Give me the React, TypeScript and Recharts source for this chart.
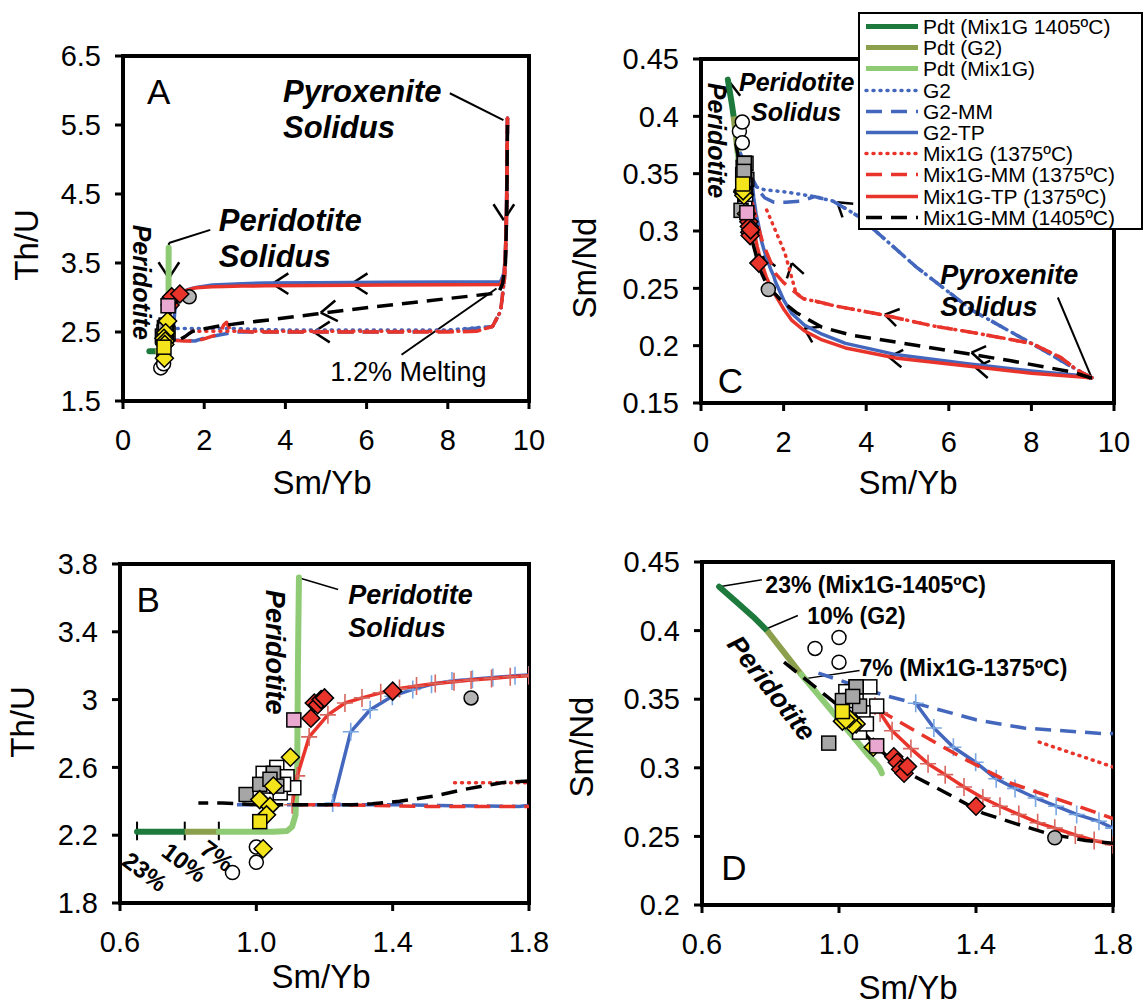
import React from 'react'
import {
  ScatterChart,
  Scatter,
  XAxis,
  YAxis,
  ReferenceLine,
  ReferenceArea,
  ReferenceDot,
  Legend,
} from 'recharts'

const FONT = '"Liberation Sans", Arial, Helvetica, sans-serif'

const RED = '#e8342a'
const BLUE = '#4467be'
const DK_GREEN = '#1d7a3c'
const OLIVE = '#8c9f4c'
const LT_GREEN = '#8ecb74'
const RED_CROSS = '#d8675f'
const BLUE_CROSS = '#7aa7e2'

// ---- model curves (Sm/Yb, Th/U, Sm/Nd) ----
const pdt1405SmYb = [0.65, 0.7, 0.75, 0.79]
const pdt1405ThU = [2.22, 2.22, 2.22, 2.22]
const pdt1405SmNd = [0.432, 0.421, 0.41, 0.4]

const pdtG2SmYb = [0.79, 0.84, 0.89]
const pdtG2ThU = [2.22, 2.22, 2.22]
const pdtG2SmNd = [0.4, 0.384, 0.368]

const pdtMixSmYb = [0.89, 0.95, 1.0, 1.05, 1.09, 1.105, 1.115, 1.12, 1.122, 1.125]
const pdtMixThU = [2.22, 2.22, 2.22, 2.22, 2.225, 2.25, 2.32, 2.6, 3.2, 3.72]
const pdtMixSmNd = [0.368, 0.35, 0.335, 0.32, 0.308, 0.304, 0.301, 0.299, 0.298, 0.296]

const g2SmYb = [9.47, 9.45, 9.4, 9.3, 9.1, 8.0, 6.56, 5.2, 3.85, 3.2, 2.75, 2.4, 2.05, 1.53, 1.3]
const g2ThU = [5.6, 4.2, 3.3, 2.8, 2.58, 2.53, 2.53, 2.53, 2.53, 2.54, 2.55, 2.55, 2.55, 2.55, 2.55]
const g2SmNd = [0.172, 0.172, 0.173, 0.175, 0.179, 0.202, 0.231, 0.269, 0.312, 0.326, 0.33, 0.332, 0.334, 0.336, 0.339]

const g2mmSmYb = [9.47, 9.45, 9.4, 9.3, 9.1, 8.0, 6.56, 5.2, 3.85, 3.2, 2.75, 2.4, 2.05, 1.77, 1.54, 1.4, 1.224, 1.13, 0.94]
const g2mmThU = [5.6, 4.2, 3.3, 2.8, 2.58, 2.51, 2.5, 2.5, 2.5, 2.5, 2.5, 2.46, 2.42, 2.37, 2.375, 2.38, 2.38, 2.38, 2.38]
const g2mmSmNd = [0.172, 0.172, 0.173, 0.175, 0.179, 0.202, 0.231, 0.269, 0.312, 0.326, 0.33, 0.326, 0.325, 0.325, 0.329, 0.335, 0.347, 0.353, 0.369]

const g2tpSmYb = [9.47, 9.45, 9.42, 9.38, 9.3, 8.0, 6.5, 4.75, 3.5, 2.93, 2.5, 2.2, 2.0, 1.8, 1.759, 1.694, 1.634, 1.574, 1.514, 1.459, 1.399, 1.334, 1.277, 1.224]
const g2tpThU = [5.6, 4.5, 3.6, 3.35, 3.23, 3.225, 3.22, 3.215, 3.21, 3.2, 3.19, 3.18, 3.165, 3.145, 3.14, 3.13, 3.12, 3.11, 3.09, 3.06, 3.02, 2.94, 2.81, 2.39]
const g2tpSmNd = [0.172, 0.172, 0.172, 0.173, 0.1735, 0.178, 0.184, 0.192, 0.202, 0.21, 0.218, 0.228, 0.24, 0.256, 0.261, 0.266, 0.272, 0.278, 0.285, 0.292, 0.304, 0.315, 0.329, 0.347]

const mixSmYb = [9.47, 9.45, 9.4, 9.3, 9.1, 8.7, 8.0, 6.5, 5.65, 4.38, 3.2, 2.6, 2.48, 2.3, 2.03, 1.76, 1.57]
const mixThU = [5.6, 4.2, 3.3, 2.8, 2.58, 2.51, 2.51, 2.51, 2.51, 2.51, 2.51, 2.51, 2.51, 2.51, 2.51, 2.51, 2.51]
const mixSmNd = [0.172, 0.172, 0.173, 0.175, 0.179, 0.19, 0.202, 0.212, 0.217, 0.227, 0.235, 0.24, 0.241, 0.246, 0.281, 0.304, 0.32]

const mixmmSmYb = [9.47, 9.45, 9.4, 9.3, 9.1, 8.7, 8.0, 6.5, 5.65, 4.38, 3.2, 2.65, 2.55, 2.48, 2.4, 2.3, 2.0, 1.8, 1.64, 1.5, 1.355, 1.235, 1.11]
const mixmmThU = [5.6, 4.2, 3.3, 2.8, 2.58, 2.51, 2.5, 2.5, 2.5, 2.5, 2.5, 2.52, 2.64, 2.6, 2.5, 2.46, 2.4, 2.37, 2.37, 2.37, 2.375, 2.38, 2.38]
const mixmmSmNd = [0.172, 0.172, 0.173, 0.175, 0.179, 0.19, 0.202, 0.212, 0.217, 0.227, 0.235, 0.24, 0.24, 0.241, 0.243, 0.246, 0.255, 0.263, 0.277, 0.289, 0.308, 0.325, 0.343]

const mixtpSmYb = [9.47, 9.45, 9.42, 9.38, 9.3, 8.0, 6.5, 4.75, 3.5, 2.93, 2.5, 2.2, 2.0, 1.8, 1.745, 1.69, 1.63, 1.58, 1.525, 1.47, 1.42, 1.365, 1.31, 1.26, 1.21, 1.155, 1.12, 1.105]
const mixtpThU = [5.6, 4.5, 3.6, 3.3, 3.19, 3.185, 3.18, 3.175, 3.17, 3.165, 3.16, 3.155, 3.15, 3.14, 3.135, 3.125, 3.115, 3.105, 3.095, 3.08, 3.065, 3.04, 3.01, 2.98, 2.91, 2.78, 2.55, 2.38]
const mixtpSmNd = [0.172, 0.172, 0.172, 0.172, 0.1725, 0.176, 0.182, 0.189, 0.198, 0.205, 0.213, 0.222, 0.232, 0.244, 0.247, 0.251, 0.256, 0.26, 0.266, 0.272, 0.278, 0.286, 0.295, 0.303, 0.314, 0.327, 0.34, 0.345]

const mm1405SmYb = [9.47, 9.45, 9.42, 9.35, 9.25, 9.0, 7.47, 6.1, 4.75, 3.66, 2.93, 2.3, 1.95, 1.8, 1.72, 1.61, 1.52, 1.42, 1.34, 1.28, 1.18, 1.1, 1.0, 0.95, 0.9, 0.83]
const mm1405ThU = [5.5, 4.2, 3.5, 3.2, 3.07, 3.05, 2.95, 2.86, 2.76, 2.68, 2.63, 2.58, 2.54, 2.52, 2.51, 2.47, 2.43, 2.4, 2.385, 2.38, 2.38, 2.38, 2.38, 2.385, 2.39, 2.39]
const mm1405SmNd = [0.172, 0.172, 0.172, 0.173, 0.174, 0.177, 0.187, 0.195, 0.203, 0.209, 0.216, 0.229, 0.239, 0.245, 0.247, 0.252, 0.259, 0.267, 0.278, 0.286, 0.299, 0.318, 0.345, 0.355, 0.365, 0.379]

// ---- samples ----
const whiteSqSmYb = [1.06, 1.09, 1.11, 1.02, 1.05, 1.03, 1.07, 1.08, 1.05]
const whiteSqThU = [2.6, 2.545, 2.48, 2.565, 2.525, 2.49, 2.45, 2.5, 2.56]
const whiteSqSmNd = [0.326, 0.359, 0.345, 0.3555, 0.352, 0.349, 0.34, 0.332, 0.359]

const graySqSmYb = [0.97, 1.05, 1.06, 1.01, 1.04]
const graySqThU = [2.44, 2.565, 2.49, 2.5, 2.53]
const graySqSmNd = [0.318, 0.359, 0.345, 0.349, 0.352]

const openCircSmYb = [0.93, 1.0, 1.0]
const openCircThU = [1.98, 2.13, 2.04]
const openCircSmNd = [0.387, 0.395, 0.377]

const grayCircSmYb = [1.63]
const grayCircThU = [3.01]
const grayCircSmNd = [0.249]

const yellowDiaSmYb = [1.1, 1.05, 1.01, 1.04, 1.03, 1.02]
const yellowDiaThU = [2.66, 2.49, 2.41, 2.37, 2.32, 2.12]
const yellowDiaSmNd = [0.315, 0.332, 0.334, 0.331, 0.336, 0.335]

const yellowSqSmYb = [1.01]
const yellowSqThU = [2.28]
const yellowSqSmNd = [0.341]

const redDiaSmYb = [1.16, 1.17, 1.18, 1.19, 1.2, 1.4]
const redDiaThU = [2.89, 2.98, 2.97, 3.0, 3.01, 3.05]
const redDiaSmNd = [0.308, 0.304, 0.299, 0.296, 0.301, 0.272]

const pinkSqSmYb = [1.11]
const pinkSqThU = [2.88]
const pinkSqSmNd = [0.316]

// ---- axes ----
const wideXTicks = [0, 2, 4, 6, 8, 10]
const narrowXTicks = [0.6, 1.0, 1.4, 1.8]
const thuWideTicks = [1.5, 2.5, 3.5, 4.5, 5.5, 6.5]
const thuNarrowTicks = [1.8, 2.2, 2.6, 3, 3.4, 3.8]
const smndWideTicks = [0.15, 0.2, 0.25, 0.3, 0.35, 0.4, 0.45]
const smndNarrowTicks = [0.2, 0.25, 0.3, 0.35, 0.4, 0.45]

const LEGEND_NAMES = [
  'Pdt (Mix1G 1405ºC)',
  'Pdt (G2)',
  'Pdt (Mix1G)',
  'G2',
  'G2-MM',
  'G2-TP',
  'Mix1G (1375ºC)',
  'Mix1G-MM (1375ºC)',
  'Mix1G-TP (1375ºC)',
  'Mix1G-MM (1405ºC)',
]

const DOT = '1 6'
const DASH = '16 9'

const LEGEND_STYLE: Record<string, { c: string; w: number; d?: string }> = {
  'Pdt (Mix1G 1405ºC)': { c: DK_GREEN, w: 5 },
  'Pdt (G2)': { c: OLIVE, w: 5 },
  'Pdt (Mix1G)': { c: LT_GREEN, w: 5 },
  G2: { c: BLUE, w: 3.5, d: DOT },
  'G2-MM': { c: BLUE, w: 3.5, d: DASH },
  'G2-TP': { c: BLUE, w: 3.5 },
  'Mix1G (1375ºC)': { c: RED, w: 3.5, d: DOT },
  'Mix1G-MM (1375ºC)': { c: RED, w: 3.5, d: DASH },
  'Mix1G-TP (1375ºC)': { c: RED, w: 3.5 },
  'Mix1G-MM (1405ºC)': { c: '#000', w: 3.5, d: DASH },
}

type Pt = { x: number; y: number }
const zip = (xs: number[], ys: number[]): Pt[] => xs.map((x, i) => ({ x, y: ys[i] }))

// ---- shapes ----
const noShape = () => <g />
const circle = (fill: string) => (p: any) => (
  <circle cx={p.cx} cy={p.cy} r={7} fill={fill} stroke="#000" strokeWidth={1.5} />
)
const square = (fill: string) => (p: any) => (
  <rect x={p.cx - 7} y={p.cy - 7} width={14} height={14} fill={fill} stroke="#000" strokeWidth={1.5} />
)
const diamond = (fill: string) => (p: any) => (
  <polygon
    points={`${p.cx},${p.cy - 9} ${p.cx + 9},${p.cy} ${p.cx},${p.cy + 9} ${p.cx - 9},${p.cy}`}
    fill={fill}
    stroke="#000"
    strokeWidth={1.5}
  />
)
const cross = (color: string) => (p: any) => (
  <path
    d={`M${p.cx - 8},${p.cy}H${p.cx + 8}M${p.cx},${p.cy - 9}V${p.cy + 9}`}
    stroke={color}
    strokeWidth={1.6}
    fill="none"
  />
)

function curve(key: string, data: Pt[], stroke: string, width: number, dash?: string, shape: any = noShape, cap = 'butt') {
  return (
    <Scatter
      key={key}
      data={data}
      line={{ stroke, strokeWidth: width, strokeDasharray: dash, strokeLinecap: cap, strokeLinejoin: 'round' }}
      lineJointType="linear"
      shape={shape}
      isAnimationActive={false}
      legendType="none"
    />
  )
}

function points(key: string, data: Pt[], shape: any) {
  return <Scatter key={key} data={data} shape={shape} isAnimationActive={false} legendType="none" />
}

function seg(key: string, x1: number, y1: number, x2: number, y2: number, w = 2) {
  return (
    <ReferenceLine
      key={key}
      segment={[{ x: x1, y: y1 }, { x: x2, y: y2 }]}
      stroke="#000"
      strokeWidth={w}
      ifOverflow="visible"
    />
  )
}

// chevron arrow head, angle in screen degrees (0 = right, 90 = down)
function chevron(key: string, x: number, y: number, angle: number, sx: number, sy: number, len = 16) {
  return [-1, 1].map((s) => {
    const a = ((angle + 180 + s * 33) * Math.PI) / 180
    return seg(key + s, x, y, x + (len * Math.cos(a)) / sx, y - (len * Math.sin(a)) / sy, 2.5)
  })
}

type TextOpts = { size: number; bold?: boolean; italic?: boolean; anchor?: 'start' | 'middle' | 'end'; rotate?: number }

function note(key: string, x: number, y: number, text: string, o: TextOpts) {
  const content = (p: any) => {
    const vb = p.viewBox || p
    const tx = vb.x
    const ty = vb.y
    return (
      <text
        x={tx}
        y={ty}
        fontFamily={FONT}
        fontSize={o.size}
        fontWeight={o.bold ? 'bold' : 'normal'}
        fontStyle={o.italic ? 'italic' : 'normal'}
        textAnchor={o.anchor || 'start'}
        dominantBaseline="central"
        fill="#000"
        transform={o.rotate ? `rotate(${o.rotate} ${tx} ${ty})` : undefined}
      >
        {text}
      </text>
    )
  }
  return (
    <ReferenceDot key={key} x={x} y={y} r={0} fill="none" stroke="none" ifOverflow="visible" label={{ content }} />
  )
}

const axisTitle = (text: string, x: number, y: number, vertical = false) => ({
  content: () => (
    <text
      x={x}
      y={y}
      textAnchor="middle"
      dominantBaseline="central"
      fontFamily={FONT}
      fontSize={33}
      fill="#000"
      transform={vertical ? `rotate(-90 ${x} ${y})` : undefined}
    >
      {text}
    </text>
  ),
})

const tickStyle = { fill: '#000', fontSize: 29, fontFamily: FONT }

interface PanelProps {
  left: number
  top: number
  width: number
  height: number
  margin: { top: number; right: number; bottom: number; left: number }
  yWidth: number
  xDomain: [number, number]
  xTicks: number[]
  xFmt?: (v: number) => string
  yDomain: [number, number]
  yTicks: number[]
  yFmt?: (v: number) => string
  xTitle: [string, number, number]
  yTitle: [string, number, number]
  children?: React.ReactNode
}

function Panel(p: PanelProps) {
  return (
    <div style={{ position: 'absolute', left: p.left, top: p.top }}>
      <ScatterChart width={p.width} height={p.height} margin={p.margin}>
        <XAxis
          type="number"
          dataKey="x"
          domain={p.xDomain}
          ticks={p.xTicks}
          tickFormatter={p.xFmt}
          allowDataOverflow
          height={50}
          axisLine={{ stroke: '#000', strokeWidth: 4 }}
          tickLine={{ stroke: '#000', strokeWidth: 3 }}
          tickSize={8}
          tickMargin={20}
          tick={tickStyle}
          label={axisTitle(p.xTitle[0], p.xTitle[1], p.xTitle[2])}
        />
        <YAxis
          type="number"
          dataKey="y"
          domain={p.yDomain}
          ticks={p.yTicks}
          tickFormatter={p.yFmt}
          allowDataOverflow
          width={p.yWidth}
          axisLine={{ stroke: '#000', strokeWidth: 4 }}
          tickLine={{ stroke: '#000', strokeWidth: 3 }}
          tickSize={8}
          tickMargin={14}
          tick={tickStyle}
          label={axisTitle(p.yTitle[0], p.yTitle[1], p.yTitle[2], true)}
        />
        <ReferenceArea
          x1={p.xDomain[0]}
          x2={p.xDomain[1]}
          y1={p.yDomain[0]}
          y2={p.yDomain[1]}
          fill="none"
          stroke="#000"
          strokeWidth={4}
          ifOverflow="visible"
        />
        {p.children}
      </ScatterChart>
    </div>
  )
}

function LegendBox() {
  return (
    <div
      style={{
        width: 281,
        height: 212,
        border: '2px solid #000',
        background: '#fff',
        overflow: 'hidden',
        fontFamily: FONT,
        fontSize: 21,
        color: '#000',
        paddingTop: 2,
      }}
    >
      {LEGEND_NAMES.map((n) => {
        const s = LEGEND_STYLE[n]
        return (
          <div key={n} style={{ display: 'flex', alignItems: 'center', height: 21.2, whiteSpace: 'nowrap' }}>
            <svg width={63} height={21} style={{ flex: 'none' }}>
              <line
                x1={6}
                x2={58}
                y1={10.5}
                y2={10.5}
                stroke={s.c}
                strokeWidth={s.w}
                strokeDasharray={s.d}
                strokeLinecap={s.d === DOT ? 'round' : 'butt'}
              />
            </svg>
            <span style={{ lineHeight: '21px' }}>{n}</span>
          </div>
        )
      })}
    </div>
  )
}

// series builders for a y-variable
function modelCurves(y: 'ThU' | 'SmNd', withCross: boolean, withG2Dot: boolean) {
  const pick = (a: number[], b: number[]) => (y === 'ThU' ? a : b)
  const out = [
    curve('pdt1', zip(pdt1405SmYb, pick(pdt1405ThU, pdt1405SmNd)), DK_GREEN, 6, undefined, noShape, 'round'),
    curve('pdt2', zip(pdtG2SmYb, pick(pdtG2ThU, pdtG2SmNd)), OLIVE, 6),
    curve('pdt3', zip(pdtMixSmYb, pick(pdtMixThU, pdtMixSmNd)), LT_GREEN, 6, undefined, noShape, 'round'),
  ]
  if (withG2Dot) out.push(curve('g2', zip(g2SmYb, pick(g2ThU, g2SmNd)), BLUE, 3.5, DOT, noShape, 'round'))
  out.push(
    curve('g2mm', zip(g2mmSmYb, pick(g2mmThU, g2mmSmNd)), BLUE, 3.5, DASH),
    curve('g2tp', zip(g2tpSmYb, pick(g2tpThU, g2tpSmNd)), BLUE, 3.5, undefined, withCross ? cross(BLUE_CROSS) : noShape),
    curve('mix', zip(mixSmYb, pick(mixThU, mixSmNd)), RED, 3.5, DOT, noShape, 'round'),
    curve('mixmm', zip(mixmmSmYb, pick(mixmmThU, mixmmSmNd)), RED, 3.5, DASH),
    curve('mixtp', zip(mixtpSmYb, pick(mixtpThU, mixtpSmNd)), RED, 3.5, undefined, withCross ? cross(RED_CROSS) : noShape),
    curve('mm1405', zip(mm1405SmYb, pick(mm1405ThU, mm1405SmNd)), '#000', 3.5, DASH),
  )
  return out
}

function samples(y: 'ThU' | 'SmNd') {
  const pick = (a: number[], b: number[]) => (y === 'ThU' ? a : b)
  return [
    points('wsq', zip(whiteSqSmYb, pick(whiteSqThU, whiteSqSmNd)), square('#fff')),
    points('gsq', zip(graySqSmYb, pick(graySqThU, graySqSmNd)), square('#a6a6a6')),
    points('oc', zip(openCircSmYb, pick(openCircThU, openCircSmNd)), circle('#fff')),
    points('gc', zip(grayCircSmYb, pick(grayCircThU, grayCircSmNd)), circle('#b4b4b4')),
    points('yd', zip(yellowDiaSmYb, pick(yellowDiaThU, yellowDiaSmNd)), diamond('#f4e41c')),
    points('ys', zip(yellowSqSmYb, pick(yellowSqThU, yellowSqSmNd)), square('#f4e41c')),
    points('rd', zip(redDiaSmYb, pick(redDiaThU, redDiaSmNd)), diamond(RED)),
    points('ps', zip(pinkSqSmYb, pick(pinkSqThU, pinkSqSmNd)), square('#e9a8cf')),
  ]
}

const f1 = (v: number) => v.toFixed(1)

export default function App() {
  const bi = { bold: true, italic: true }
  // approx px per data unit for arrow heads
  const aSx = 40.6, aSy = 69
  const cSx = 41.3, cSy = 1146.7

  return (
    <div style={{ position: 'absolute', left: 0, top: 0, width: 1147, height: 1008, background: '#fff' }}>
      {/* Panel A */}
      <Panel
        left={0}
        top={0}
        width={560}
        height={512}
        margin={{ top: 56, right: 31, bottom: 61, left: 53 }}
        yWidth={70}
        xDomain={[0, 10]}
        xTicks={wideXTicks}
        yDomain={[1.5, 6.5]}
        yTicks={thuWideTicks}
        yFmt={f1}
        xTitle={['Sm/Yb', 322, 482]}
        yTitle={['Th/U', 26, 245]}
      >
        {modelCurves('ThU', false, true)}
        {samples('ThU')}
        {note('lA', 0.88, 5.98, 'A', { size: 35, anchor: 'middle' })}
        {note('pyx1', 3.94, 5.98, 'Pyroxenite', { size: 31, ...bi })}
        {note('pyx2', 3.94, 5.46, 'Solidus', { size: 31, ...bi })}
        {note('per1', 2.36, 4.12, 'Peridotite', { size: 31, ...bi })}
        {note('per2', 2.36, 3.59, 'Solidus', { size: 31, ...bi })}
        {note('perv', 0.48, 3.22, 'Peridotite', { size: 25, anchor: 'middle', rotate: 90, ...bi })}
        {note('melt', 7.03, 1.92, '1.2% Melting', { size: 27, anchor: 'middle' })}
        {seg('l1', 8.05, 5.96, 9.37, 5.57)}
        {seg('l2', 2.15, 3.98, 1.13, 3.79)}
        {seg('l3', 1.13, 3.79, 1.13, 3.28)}
        {seg('l4', 6.86, 2.17, 9.2, 3.13)}
        {chevron('c1', 1.13, 3.28, 90, aSx, aSy, 19)}
        {chevron('c2', 9.38, 4.12, 90, aSx, aSy, 19)}
        {chevron('c3', 3.68, 3.2, 180, aSx, aSy, 19)}
        {chevron('c4', 5.63, 3.2, 180, aSx, aSy, 19)}
        {chevron('c5', 4.87, 2.78, 173, aSx, aSy, 19)}
        {chevron('c6', 4.7, 2.5, 180, aSx, aSy, 19)}
      </Panel>

      {/* Panel B */}
      <Panel
        left={0}
        top={500}
        width={560}
        height={508}
        margin={{ top: 64, right: 31, bottom: 55, left: 50 }}
        yWidth={70}
        xDomain={[0.6, 1.8]}
        xTicks={narrowXTicks}
        xFmt={f1}
        yDomain={[1.8, 3.8]}
        yTicks={thuNarrowTicks}
        xTitle={['Sm/Yb', 321, 476]}
        yTitle={['Th/U', 22, 222]}
      >
        {modelCurves('ThU', true, false)}
        {seg('t23', 0.65, 2.17, 0.65, 2.28)}
        {seg('t10', 0.79, 2.17, 0.79, 2.28)}
        {seg('t7', 0.89, 2.17, 0.89, 2.28)}
        {samples('ThU')}
        {note('lB', 0.683, 3.59, 'B', { size: 35, anchor: 'middle' })}
        {note('perv', 1.055, 3.28, 'Peridotite', { size: 27, anchor: 'middle', rotate: 90, ...bi })}
        {note('per1', 1.27, 3.617, 'Peridotite', { size: 27, ...bi })}
        {note('per2', 1.27, 3.42, 'Solidus', { size: 27, ...bi })}
        {seg('l1', 1.24, 3.65, 1.122, 3.72, 1.5)}
        {note('p23', 0.673, 1.985, '23%', { size: 24, bold: true, anchor: 'middle', rotate: 37 })}
        {note('p10', 0.789, 2.04, '10%', { size: 24, bold: true, anchor: 'middle', rotate: 37 })}
        {note('p7', 0.885, 2.08, '7%', { size: 24, bold: true, anchor: 'middle', rotate: 37 })}
      </Panel>

      {/* Panel C */}
      <Panel
        left={560}
        top={0}
        width={587}
        height={512}
        margin={{ top: 59, right: 33, bottom: 59, left: 61 }}
        yWidth={80}
        xDomain={[0, 10]}
        xTicks={wideXTicks}
        yDomain={[0.15, 0.45]}
        yTicks={smndWideTicks}
        xTitle={['Sm/Yb', 348, 482]}
        yTitle={['Sm/Nd', 24, 268]}
      >
        {modelCurves('SmNd', false, true)}
        {samples('SmNd')}
        {note('lC', 0.71, 0.17, 'C', { size: 35, anchor: 'middle' })}
        {note('per1', 0.92, 0.43, 'Peridotite', { size: 25, ...bi })}
        {note('per2', 1.21, 0.404, 'Solidus', { size: 25, ...bi })}
        {note('perv', 0.39, 0.379, 'Peridotite', { size: 25, anchor: 'middle', rotate: 90, ...bi })}
        {note('pyx1', 5.79, 0.262, 'Pyroxenite', { size: 27, ...bi })}
        {note('pyx2', 5.79, 0.234, 'Solidus', { size: 27, ...bi })}
        {seg('l1', 8.64, 0.242, 9.46, 0.172)}
        {chevron('c0', 0.71, 0.429, -95, cSx, cSy, 16)}
        {chevron('c1', 3.3, 0.325, -142, cSx, cSy, 16)}
        {chevron('c2', 2.2, 0.272, -105, cSx, cSy, 16)}
        {chevron('c3', 4.45, 0.227, -168, cSx, cSy, 16)}
        {chevron('c4', 6.55, 0.194, -171, cSx, cSy, 16)}
        {chevron('c5', 6.65, 0.181, -172, cSx, cSy, 16)}
        {chevron('c6', 4.55, 0.19, -174, cSx, cSy, 16)}
        {chevron('c7', 2.5, 0.215, -153, cSx, cSy, 16)}
        {chevron('c8', 1.5, 0.278, -108, cSx, cSy, 16)}
        <Legend
          layout="vertical"
          align="center"
          verticalAlign="middle"
          wrapperStyle={{ left: 298, top: 12, width: 285 }}
          content={() => <LegendBox />}
        />
      </Panel>

      {/* Panel D */}
      <Panel
        left={560}
        top={500}
        width={587}
        height={508}
        margin={{ top: 62, right: 34, bottom: 53, left: 62 }}
        yWidth={80}
        xDomain={[0.6, 1.8]}
        xTicks={narrowXTicks}
        xFmt={f1}
        yDomain={[0.2, 0.45]}
        yTicks={smndNarrowTicks}
        xTitle={['Sm/Yb', 348, 487]}
        yTitle={['Sm/Nd', 21, 247]}
      >
        {modelCurves('SmNd', true, false)}
        {samples('SmNd')}
        {note('lD', 0.693, 0.227, 'D', { size: 35, anchor: 'middle' })}
        {note('n23', 0.785, 0.433, '23% (Mix1G-1405ºC)', { size: 23, bold: true })}
        {seg('l1', 0.775, 0.437, 0.65, 0.432, 1.5)}
        {note('n10', 0.907, 0.411, '10% (G2)', { size: 23, bold: true })}
        {seg('l2', 0.88, 0.411, 0.785, 0.401, 1.5)}
        {note('n7', 1.06, 0.3725, '7% (Mix1G-1375ºC)', { size: 23, bold: true })}
        {seg('l3', 1.06, 0.371, 0.902, 0.365, 1.5)}
        {note('perv', 0.803, 0.358, 'Peridotite', { size: 27, anchor: 'middle', rotate: 52, ...bi })}
      </Panel>
    </div>
  )
}
